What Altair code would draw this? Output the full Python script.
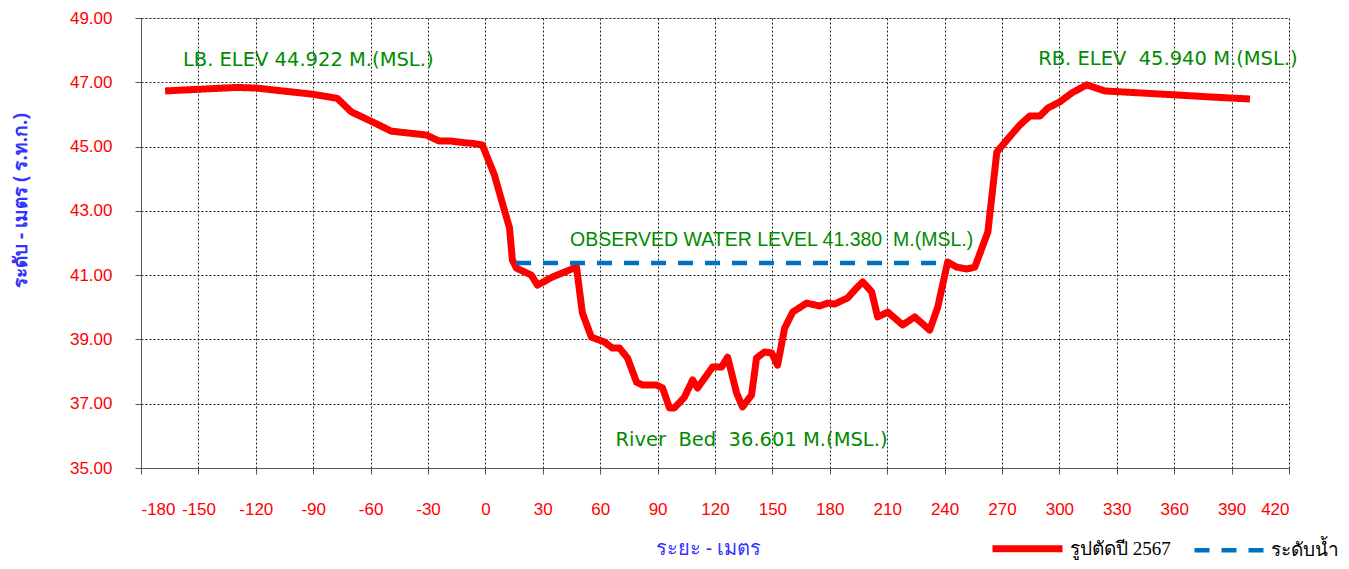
import altair as alt
import pandas as pd

# Cross-section 2567 (distance m, elevation m MSL)
sec_x = [-167.4, -150.6, -130.0, -119.8, -90.5, -77.4, -70.1, -59.1, -49.2, -30.9, -24.1, -17.8, -11.0, -6.8, -1.6,
         4.7, 8.4, 12.6, 14.1, 16.2, 24.0, 27.2, 35.0, 47.6,
         50.7, 55.4, 62.2, 66.4, 70.1, 74.3, 79.0, 82.1, 89.4, 92.6, 96.2, 98.8, 104.0, 108.3, 110.9,
         118.7, 123.4, 126.6, 131.3, 134.4, 139.1, 141.7, 145.9, 149.6, 152.7, 156.4, 160.6, 167.9,
         174.7, 178.9, 182.5, 189.3, 194.0, 197.2, 201.9, 205.0, 210.3, 218.1, 224.4, 232.2, 236.4,
         241.6, 246.3, 251.6, 255.8, 262.6, 267.3, 272.5, 279.3, 284.5, 289.8, 294.0, 300.2, 306.5,
         314.3, 323.7, 363.0, 380.0, 399.6]
sec_y = [46.73, 46.78, 46.84, 46.82, 46.63, 46.50, 46.08, 45.77, 45.48, 45.36, 45.17, 45.17, 45.12, 45.10, 45.05,
         44.12, 43.34, 42.47, 41.47, 41.22, 41.00, 40.69, 40.94, 41.25,
         39.82, 39.07, 38.92, 38.73, 38.73, 38.42, 37.67, 37.58, 37.58, 37.49, 36.87, 36.87, 37.20, 37.74, 37.49,
         38.14, 38.14, 38.45, 37.33, 36.90, 37.27, 38.42, 38.61, 38.58, 38.20, 39.35, 39.85, 40.13,
         40.04, 40.13, 40.10, 40.29, 40.60, 40.79, 40.48, 39.70, 39.85, 39.45, 39.70, 39.29, 40.00,
         41.41, 41.25, 41.19, 41.25, 42.34, 44.83, 45.20, 45.67, 45.95, 45.95, 46.20, 46.39, 46.67,
         46.92, 46.73, 46.60, 46.54, 46.48]

water_x = [16.0, 237.0]
water_y = [41.38, 41.38]

series_names = ["รูปตัดปี 2567", "ระดับน้ำ"]

NB = "\u00a0"
ann_text = ["LB. ELEV 44.922 M.(MSL.)",
            "RB. ELEV " + NB + "45.940 M.(MSL.)",
            "River " + NB + "Bed " + NB + "36.601 M.(MSL.)"]
ann_x = [-92.6, 356.7, 139.1]
ann_y = [47.69, 47.72, 35.87]

obs_text = ["OBSERVED WATER LEVEL 41.380 " + NB + "M.(MSL.)"]
obs_x = [149.6]
obs_y = [42.09]

x_ticks = list(range(-180, 421, 30))
y_ticks = [35, 37, 39, 41, 43, 45, 47, 49]

rows = []
for i, (xv, yv) in enumerate(zip(sec_x, sec_y)):
    rows.append({"x": xv, "y": yv, "s": series_names[0], "o": i})
for i, (xv, yv) in enumerate(zip(water_x, water_y)):
    rows.append({"x": xv, "y": yv, "s": series_names[1], "o": i})
df = pd.DataFrame(rows)
ann = pd.DataFrame({"t": ann_text, "x": ann_x, "y": ann_y})
obs = pd.DataFrame({"t": obs_text, "x": obs_x, "y": obs_y})

xscale = alt.Scale(domain=[-180, 420], nice=False, zero=False)
yscale = alt.Scale(domain=[35, 49], nice=False, zero=False)

lines = alt.Chart(df).mark_line(strokeJoin="round", strokeCap="butt").encode(
    x=alt.X("x:Q", scale=xscale,
            axis=alt.Axis(values=x_ticks, title="ระยะ - เมตร",
                          labelExpr="datum.value < 0 ? '-' + abs(datum.value) : '' + datum.value",
                          labelOverlap=False, labelBound=False,
                          labelColor="#FF0000", labelFontSize=17, labelFont="Liberation Sans",
                          labelPadding=27, tickSize=6, tickColor="#555555",
                          domainColor="#555555", gridColor="#000000", gridDash=[2, 2], gridOpacity=0.85,
                          titleColor="#3333FF", titleFontSize=20, titleFontWeight="normal",
                          titleFont="Noto Sans", titleX=567, titleY=80, titleBaseline="middle")),
    y=alt.Y("y:Q", scale=yscale,
            axis=alt.Axis(values=y_ticks, title="ระดับ - เมตร ( ร.ท.ก.)", format=".2f",
                          labelOverlap=False,
                          labelColor="#FF0000", labelFontSize=17, labelFont="Liberation Sans",
                          labelPadding=23, tickSize=6, tickColor="#555555",
                          domainColor="#555555", gridColor="#000000", gridDash=[2, 2], gridOpacity=0.85,
                          titleColor="#3333FF", titleFontSize=19, titleFontWeight="bold",
                          titleFont="Noto Sans", titleX=-121, titleY=182, titleBaseline="middle",
                          titleAlign="center")),
    color=alt.Color("s:N", scale=alt.Scale(domain=series_names, range=["#FF0000", "#0070C0"]),
                    legend=alt.Legend(title=None, orient="none", legendX=848, legendY=492,
                                      direction="horizontal", symbolType="stroke",
                                      symbolSize=4900, symbolStrokeWidth=6,
                                      labelFont="Liberation Serif", labelFontSize=19,
                                      labelColor="#000000", columnPadding=14, labelOffset=4)),
    strokeDash=alt.StrokeDash("s:N", scale=alt.Scale(domain=series_names, range=[[1, 0], [15, 12]]),
                              legend=None),
    strokeWidth=alt.StrokeWidth("s:N", scale=alt.Scale(domain=series_names, range=[7, 4.5]),
                                legend=None),
    order="o:Q",
    detail="s:N",
)

texts = alt.Chart(ann).mark_text(color="#008A00", baseline="middle", align="center",
                                 font="DejaVu Sans", fontSize=19.5).encode(
    x=alt.X("x:Q", scale=xscale),
    y=alt.Y("y:Q", scale=yscale),
    text="t:N",
)

obs_txt = alt.Chart(obs).mark_text(color="#008A00", baseline="middle", align="center",
                                   font="Liberation Sans", fontSize=19.5).encode(
    x=alt.X("x:Q", scale=xscale),
    y=alt.Y("y:Q", scale=yscale),
    text="t:N",
)

chart = alt.layer(lines, texts, obs_txt).properties(
    width=1148, height=450,
    autosize=alt.AutoSizeParams(type="none"),
    padding={"left": 133, "top": 10, "right": 50, "bottom": 93},
).configure_view(stroke="#555555", strokeWidth=1).configure(background="white")

chart.save("out.html", embed_options={"renderer": "svg", "actions": False})
